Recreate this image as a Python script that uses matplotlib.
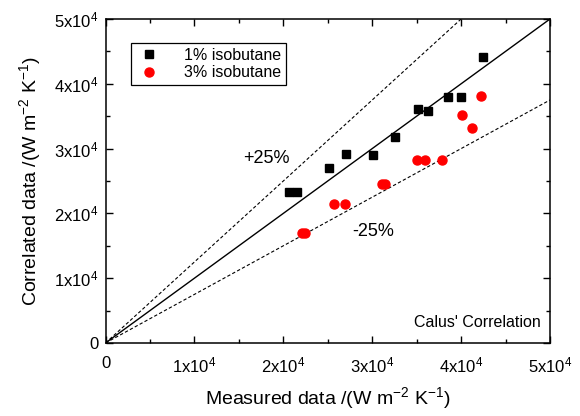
import numpy as np
import matplotlib
matplotlib.use("Agg")
import matplotlib.pyplot as plt
from matplotlib.ticker import MultipleLocator, FuncFormatter

plt.rcParams['font.family'] = ['Liberation Sans', 'DejaVu Sans']
plt.rcParams['mathtext.fontset'] = 'custom'
plt.rcParams['mathtext.rm'] = 'Liberation Sans'
plt.rcParams['mathtext.it'] = 'Liberation Sans'

# 1% isobutane
meas_1 = [42500, 38490, 39960, 35190, 36240, 32570, 27090, 30120, 25110, 20680, 21570]
corr_1 = [44180, 38010, 38010, 36110, 35760, 31740, 29170, 28970, 26990, 23260, 23260]

# 3% isobutane
meas_3 = [42270, 40100, 41220, 35040, 35940, 37820, 31070, 31440, 25740, 26940, 22070, 22440]
corr_3 = [38120, 35190, 33130, 28240, 28240, 28240, 24540, 24540, 21410, 21410, 17020, 17020]

lim = 50000

fig = plt.figure(figsize=(5.8, 4.16), dpi=100)
ax = fig.add_axes([105.5 / 580, 1 - 343 / 416, (550 - 105.5) / 580, (343 - 19) / 416])

xs = np.array([0, lim])
ax.plot(xs, xs, color='black', lw=1.0)
ax.plot(xs, 1.25 * xs, color='black', lw=0.8, ls=(0, (3, 2)))
ax.plot(xs, 0.75 * xs, color='black', lw=0.8, ls=(0, (3, 2)))

ax.plot(meas_1, corr_1, 's', color='black', ms=6, ls='none', label='1% isobutane')
ax.plot(meas_3, corr_3, 'o', color='red', ms=6.5, ls='none', label='3% isobutane')

ax.set_xlim(0, lim)
ax.set_ylim(0, lim)


def sci(v, pos):
    n = int(round(v / 1e4))
    if n == 0:
        return '0'
    return r'%dx10$^{\mathregular{4}}$' % n


for a in (ax.xaxis, ax.yaxis):
    a.set_major_locator(MultipleLocator(10000))
    a.set_minor_locator(MultipleLocator(5000))
    a.set_major_formatter(FuncFormatter(sci))

ax.tick_params(which='both', direction='in', top=True, right=True, labelsize=12)
ax.tick_params(which='major', length=5, width=1)
ax.tick_params(which='minor', length=3, width=1)
ax.tick_params(axis='x', pad=9)
ax.tick_params(axis='y', pad=5)
for s in ax.spines.values():
    s.set_linewidth(1.1)

ax.set_xlabel(r'Measured data /(W m$^{-2}$ K$^{-1}$)', fontsize=14, labelpad=7)
ax.set_ylabel(r'Correlated data /(W m$^{-2}$ K$^{-1}$)', fontsize=14, labelpad=8)

ax.text(15500, 27800, '+25%', fontsize=13)
ax.text(27800, 16500, '-25%', fontsize=13)
ax.text(49000, 2500, "Calus' Correlation", fontsize=11.5, ha='right')

leg = ax.legend(loc='upper left', bbox_to_anchor=(0.04, 0.95), fontsize=11.5,
                frameon=True, fancybox=False, edgecolor='black', framealpha=1,
                handletextpad=1.4, borderpad=0.3, labelspacing=0.15, handlelength=1.6)
leg.get_frame().set_linewidth(0.9)

fig.savefig('out.png', dpi=100)
